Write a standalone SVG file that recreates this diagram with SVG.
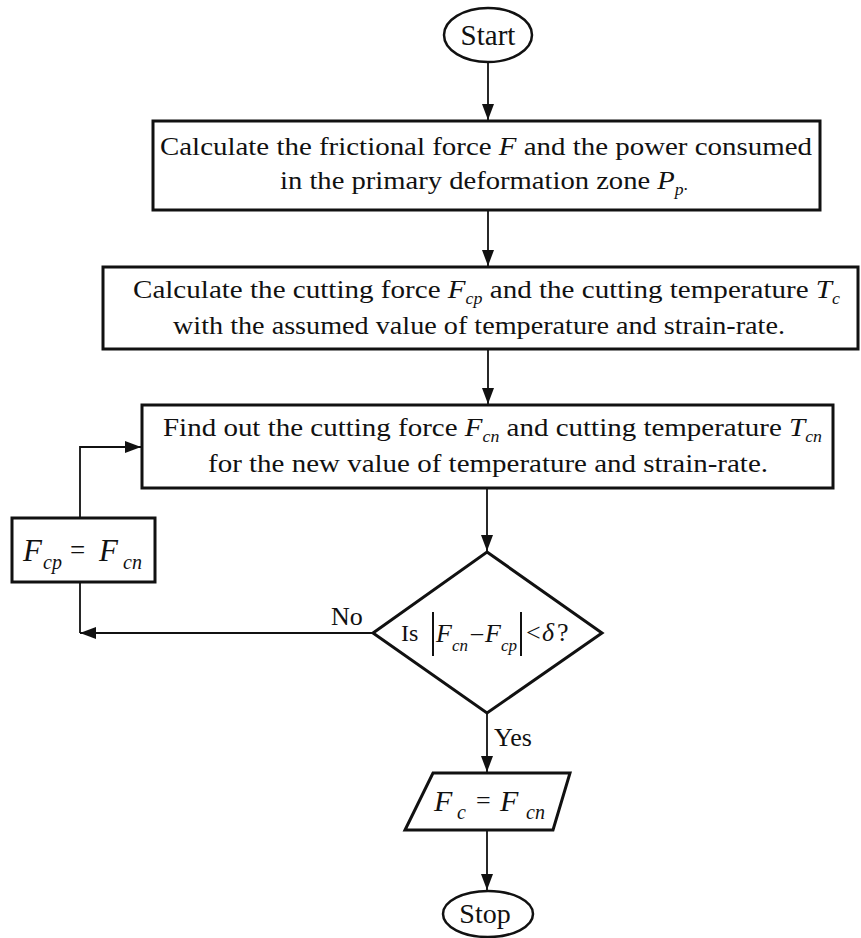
<svg xmlns="http://www.w3.org/2000/svg" width="861" height="938" viewBox="0 0 861 938">
  <style>
    .node { fill: #ffffff; stroke: #111111; stroke-width: 3; }
    .term { fill: #ffffff; stroke: #111111; stroke-width: 2.5; }
    .conn { fill: none; stroke: #111111; stroke-width: 1.8; }
    text { font-family: "Liberation Serif", "Times New Roman", serif; fill: #111111; }
    .t { font-size: 26px; text-anchor: start; }
    .i { font-style: italic; }
    .lbl { font-size: 26px; }
  </style>
  <defs>
    <marker id="arr" viewBox="0 0 16 12" refX="16" refY="6" markerWidth="16" markerHeight="12" markerUnits="userSpaceOnUse" orient="auto">
      <path d="M0,0 L16,6 L0,12 z" fill="#111111"/>
    </marker>
  </defs>

  <rect width="861" height="938" fill="#ffffff"/>

  <g id="connectors">
    <line class="conn" x1="488" y1="62" x2="488" y2="120" marker-end="url(#arr)"/>
    <line class="conn" x1="488" y1="210" x2="488" y2="266" marker-end="url(#arr)"/>
    <line class="conn" x1="488" y1="349" x2="488" y2="404" marker-end="url(#arr)"/>
    <line class="conn" x1="487" y1="488" x2="487" y2="551" marker-end="url(#arr)"/>
    <polyline class="conn" points="373,633 80,633" marker-end="url(#arr)"/>
    <line class="conn" x1="80" y1="583" x2="80" y2="633"/>
    <polyline class="conn" points="80,518 80,447 141,447" marker-end="url(#arr)"/>
    <line class="conn" x1="487" y1="713" x2="487" y2="772" marker-end="url(#arr)"/>
    <line class="conn" x1="487" y1="831" x2="487" y2="890" marker-end="url(#arr)"/>
    <text class="lbl" x="331" y="625">No</text>
    <text class="lbl" x="494" y="746">Yes</text>
  </g>

  <g id="start">
    <ellipse class="term" cx="488" cy="35" rx="44" ry="27"/>
    <text x="488" y="45" font-size="29" text-anchor="middle">Start</text>
  </g>

  <g id="step-friction">
    <rect class="node" x="153" y="121" width="667" height="89"/>
    <text class="t" x="160" y="155" textLength="652" lengthAdjust="spacingAndGlyphs">Calculate the frictional force <tspan class="i">F</tspan> and the power consumed</text>
    <text class="t" x="280" y="189" textLength="408" lengthAdjust="spacingAndGlyphs">in the primary deformation zone <tspan class="i">P</tspan><tspan class="i" font-size="16" dy="6">p</tspan><tspan font-size="16" dy="-5">.</tspan></text>
  </g>

  <g id="step-cutting-assumed">
    <rect class="node" x="103" y="267" width="755" height="82"/>
    <text class="t" x="133" y="298" textLength="707" lengthAdjust="spacingAndGlyphs">Calculate the cutting force <tspan class="i">F</tspan><tspan class="i" font-size="16" dy="6">cp</tspan><tspan dy="-6"> and the cutting temperature </tspan><tspan class="i">T</tspan><tspan class="i" font-size="16" dy="6">c</tspan></text>
    <text class="t" x="173" y="334" textLength="612" lengthAdjust="spacingAndGlyphs">with the assumed value of temperature and strain-rate.</text>
  </g>

  <g id="step-cutting-new">
    <rect class="node" x="142" y="405" width="691" height="83"/>
    <text class="t" x="163" y="436" textLength="659" lengthAdjust="spacingAndGlyphs">Find out the cutting force <tspan class="i">F</tspan><tspan class="i" font-size="16" dy="6">cn</tspan><tspan dy="-6"> and cutting temperature </tspan><tspan class="i">T</tspan><tspan class="i" font-size="16" dy="6">cn</tspan></text>
    <text class="t" x="208" y="472" textLength="560" lengthAdjust="spacingAndGlyphs">for the new value of temperature and strain-rate.</text>
  </g>

  <g id="update">
    <rect class="node" x="12" y="518" width="143" height="64"/>
    <text x="23" y="561" font-size="31" class="i">F</text>
    <text x="43" y="569" font-size="20" class="i">cp</text>
    <text x="70" y="559" font-size="27">=</text>
    <text x="99" y="561" font-size="31" class="i">F</text>
    <text x="123" y="569" font-size="20" class="i">cn</text>
  </g>

  <g id="decision">
    <polygon class="node" points="487,552 602,633 487,713 373,633"/>
    <text x="401" y="641" font-size="24">Is</text>
    <line x1="433" y1="612" x2="433" y2="656" stroke="#111111" stroke-width="2"/>
    <text x="436" y="642" font-size="26" class="i">F</text>
    <text x="452" y="651" font-size="17" class="i">cn</text>
    <text x="471" y="640" font-size="24">–</text>
    <text x="485" y="642" font-size="26" class="i">F</text>
    <text x="501" y="651" font-size="17" class="i">cp</text>
    <line x1="521" y1="612" x2="521" y2="656" stroke="#111111" stroke-width="2"/>
    <text x="526" y="641" font-size="26">&lt;</text>
    <text x="542" y="641" font-size="26" class="i">δ</text>
    <text x="557" y="641" font-size="26">?</text>
  </g>

  <g id="result">
    <polygon class="node" points="433,773 570,773 553,830 405,830"/>
    <text x="434" y="811" font-size="30" class="i">F</text>
    <text x="457" y="819" font-size="20" class="i">c</text>
    <text x="476" y="809" font-size="26">=</text>
    <text x="500" y="811" font-size="30" class="i">F</text>
    <text x="526" y="819" font-size="20" class="i">cn</text>
  </g>

  <g id="stop">
    <ellipse class="term" cx="488" cy="914" rx="45" ry="23"/>
    <text x="485" y="923" font-size="28" text-anchor="middle">Stop</text>
  </g>
</svg>
